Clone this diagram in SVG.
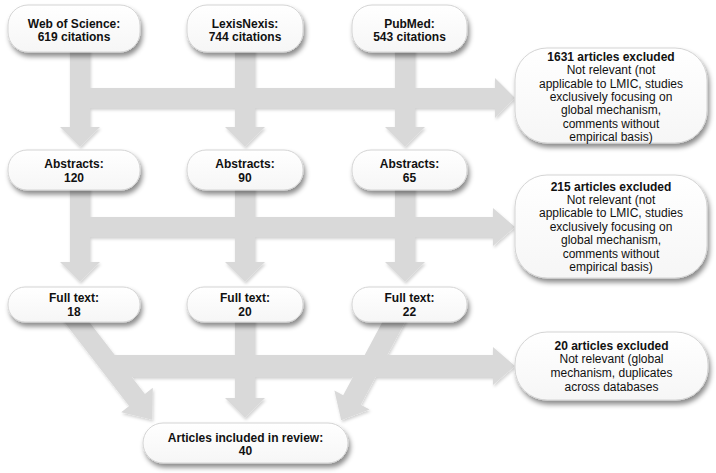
<svg xmlns="http://www.w3.org/2000/svg" width="716" height="473" viewBox="0 0 716 473">
<defs>
<filter id="bshadow" x="-10%" y="-20%" width="125%" height="150%">
<feDropShadow dx="2" dy="4" stdDeviation="2.5" flood-color="#000" flood-opacity="0.45"/>
</filter>
<filter id="ashadow" x="-5%" y="-5%" width="110%" height="115%">
<feDropShadow dx="1" dy="2" stdDeviation="1.5" flood-color="#000" flood-opacity="0.18"/>
</filter>
<linearGradient id="bg" x1="0" y1="0" x2="0" y2="1">
<stop offset="0" stop-color="#ffffff"/>
<stop offset="1" stop-color="#f6f6f6"/>
</linearGradient>
<style>
.box{fill:url(#bg);stroke:#d4d4d4;stroke-width:1;filter:url(#bshadow)}
.t{font-family:"Liberation Sans",Arial,Helvetica,sans-serif;font-size:12px;fill:#111;text-anchor:middle}
.b{font-weight:bold}
.conn{fill:#d9d9d9}
</style>
</defs>
<rect width="716" height="473" fill="#fff"/>
<g id="connectors" class="conn" filter="url(#ashadow)">
<rect x="70" y="40" width="20" height="88"/>
<polygon points="60,127 100,127 80,147"/>
<rect x="235" y="40" width="20" height="88"/>
<polygon points="225,127 265,127 245,147"/>
<rect x="395" y="40" width="20" height="88"/>
<polygon points="385,127 425,127 405,147"/>
<rect x="70" y="88" width="426" height="20"/>
<polygon points="495,78 495,118 515,98"/>
<rect x="70" y="180" width="20" height="83"/>
<polygon points="60,262 100,262 80,282"/>
<rect x="235" y="180" width="20" height="83"/>
<polygon points="225,262 265,262 245,282"/>
<rect x="395" y="180" width="20" height="83"/>
<polygon points="385,262 425,262 405,282"/>
<rect x="70" y="217" width="424" height="20"/>
<polygon points="493,208 493,246 515,227"/>
<polygon points="75.4,303.9 144.9,393.9 152.8,387.8 152.3,419.8 121.2,412.2 129.1,406.1 59.6,316.1"/>
<rect x="235" y="310" width="20" height="89"/>
<polygon points="225,398 265,398 245,418"/>
<polygon points="408.9,314.7 360.8,404.7 369.6,409.4 341.2,420.2 334.4,390.6 343.2,395.3 391.3,305.3"/>
<rect x="110" y="355" width="384" height="22"/>
<polygon points="493,347 493,385 515,366"/>
</g>
<g id="wos">
<rect class="box" x="8" y="5" width="132" height="47" rx="20"/>
<text class="t b" x="74" y="28">Web of Science:</text>
<text class="t b" x="74" y="41">619 citations</text>
</g>
<g id="lexis">
<rect class="box" x="187" y="5" width="116" height="47" rx="20"/>
<text class="t b" x="245" y="28">LexisNexis:</text>
<text class="t b" x="245" y="41">744 citations</text>
</g>
<g id="pubmed">
<rect class="box" x="352" y="5" width="115" height="47" rx="20"/>
<text class="t b" x="409.5" y="28">PubMed:</text>
<text class="t b" x="409.5" y="41">543 citations</text>
</g>
<g id="excl1">
<rect class="box" x="515" y="48" width="192" height="95" rx="32"/>
<text class="t b" x="611" y="61">1631 articles excluded</text>
<text class="t" x="611" y="74.3">Not relevant (not</text>
<text class="t" x="611" y="87.6">applicable to LMIC, studies</text>
<text class="t" x="611" y="100.9">exclusively focusing on</text>
<text class="t" x="611" y="114.2">global mechanism,</text>
<text class="t" x="611" y="127.5">comments without</text>
<text class="t" x="611" y="140.8">empirical basis)</text>
</g>
<g id="abs-wos">
<rect class="box" x="8" y="150" width="132" height="40" rx="19"/>
<text class="t b" x="74" y="168">Abstracts:</text>
<text class="t b" x="74" y="181.5">120</text>
</g>
<g id="abs-lexis">
<rect class="box" x="187" y="150" width="116" height="40" rx="19"/>
<text class="t b" x="245" y="168">Abstracts:</text>
<text class="t b" x="245" y="181.5">90</text>
</g>
<g id="abs-pubmed">
<rect class="box" x="352" y="150" width="115" height="40" rx="19"/>
<text class="t b" x="409.5" y="168">Abstracts:</text>
<text class="t b" x="409.5" y="181.5">65</text>
</g>
<g id="excl2">
<rect class="box" x="515" y="175" width="192" height="103" rx="32"/>
<text class="t b" x="611" y="190.5">215 articles excluded</text>
<text class="t" x="611" y="203.9">Not relevant (not</text>
<text class="t" x="611" y="217.3">applicable to LMIC, studies</text>
<text class="t" x="611" y="230.7">exclusively focusing on</text>
<text class="t" x="611" y="244.1">global mechanism,</text>
<text class="t" x="611" y="257.5">comments without</text>
<text class="t" x="611" y="270.9">empirical basis)</text>
</g>
<g id="ft-wos">
<rect class="box" x="8" y="287" width="132" height="35" rx="17"/>
<text class="t b" x="74" y="302">Full text:</text>
<text class="t b" x="74" y="315.5">18</text>
</g>
<g id="ft-lexis">
<rect class="box" x="187" y="287" width="116" height="35" rx="17"/>
<text class="t b" x="245" y="302">Full text:</text>
<text class="t b" x="245" y="315.5">20</text>
</g>
<g id="ft-pubmed">
<rect class="box" x="352" y="287" width="115" height="35" rx="17"/>
<text class="t b" x="409.5" y="302">Full text:</text>
<text class="t b" x="409.5" y="315.5">22</text>
</g>
<g id="excl3">
<rect class="box" x="515" y="332" width="193" height="68" rx="32"/>
<text class="t b" x="611.5" y="349.5">20 articles excluded</text>
<text class="t" x="611.5" y="363.3">Not relevant (global</text>
<text class="t" x="611.5" y="376.9">mechanism, duplicates</text>
<text class="t" x="611.5" y="390.5">across databases</text>
</g>
<g id="included">
<rect class="box" x="143" y="423" width="205" height="40" rx="20"/>
<text class="t b" x="245.5" y="441.5">Articles included in review:</text>
<text class="t b" x="245.5" y="455">40</text>
</g>
</svg>
